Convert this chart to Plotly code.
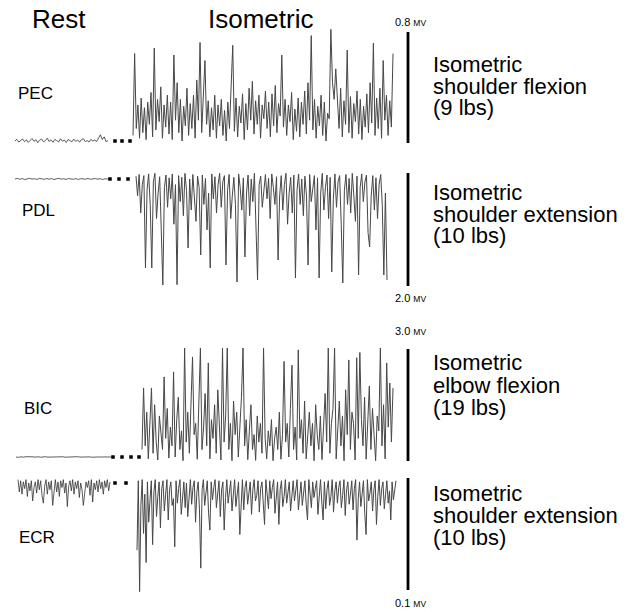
import numpy as np
import plotly.graph_objects as go

# ---------------- data ----------------
channels = ["PEC", "PDL", "BIC", "ECR"]
tasks = [
    ["Isometric", "shoulder flexion", "(9 lbs)"],
    ["Isometric", "shoulder extension", "(10 lbs)"],
    ["Isometric", "elbow flexion", "(19 lbs)"],
    ["Isometric", "shoulder extension", "(10 lbs)"],
]
scale_mv = [0.8, 2.0, 3.0, 0.1]
scale_labels = ["0.8", "2.0", "3.0", "0.1"]

# segment timing (ms)
rest_start = [0, 0, 10, 30]
rest_end = [930, 950, 970, 950]
iso_start = [1180, 1210, 1270, 1220]
iso_end = [3780, 3720, 3780, 3810]
gap_dots = [[1000, 1070, 1150], [950, 1040, 1130], [980, 1070, 1160, 1240], [1000, 1110]]

# EMG samples (microvolts)
pec_rest = [0, 12, -8, 5, 15, -5, 8, -10, 4, 18, -3, 10, -12, 6, 14, -6, 3, 20, -4, 9,
            -9, 12, 2, -7, 16, -2, 7, -11, 11, 5, -6, 14, -3, 8, -9, 10, 17, -5, 4, -8,
            12, 0, 6, -4, 22, 45, 10, 30, -5, 3]
pec_iso = [40, 630, 90, 260, 20, 310, 60, 240, 10, 280,
           120, 350, 30, 670, 80, 300, 140, 390, 20, 260,
           100, 330, 50, 280, 10, 620, 150, 420, 60, 300,
           0, 250, 110, 380, 40, 270, 90, 330, 20, 440,
           150, 710, 60, 350, 580, 120, 290, 30, 240, 80,
           330, 20, 260, 110, 300, 40, 220, 0, 280, 90,
           360, 690, 70, 310, 30, 250, 130, 340, 10, 270,
           80, 380, 150, 430, 50, 290, 120, 330, 20, 260,
           160, 360, 90, 280, 30, 340, 110, 400, 60, 270,
           180, 620, 100, 300, 40, 260, 140, 350, 10, 230,
           70, 310, 30, 280, 120, 360, 50, 420, 150, 760,
           80, 300, 20, 250, 110, 330, 40, 280, 0, 200,
           160, 805, 420, 300, 520, 250, 90, 380, 30, 290,
           120, 655, 60, 320, 20, 270, 140, 360, 50, 300,
           10, 250, 100, 340, 60, 420, 130, 705, 40, 310,
           90, 380, 20, 580, 150, 330, 40, 290, 100, 630]

pdl_rest = [0, 10, -5, 8, -10, 5, 12, -3, 6, -8, 10, 2, -6, 9, -4, 7, -10, 4, 11, -2,
            5, -7, 9, 0, -5, 8, -9, 6, 3, -4, 10, -6, 2, 7, -3, 5, -8, 4, 0, 3]
pdl_iso = [50, -300, 80, -600, -100, 60, -1575, -200, 90, -450,
           -1575, -50, 100, -700, -250, 40, -900, -1876, -150, 70,
           -500, 20, -350, 90, -800, -100, -1870, 60, -400, 30,
           -650, 100, -200, -1221, 0, -550, 80, -300, -750, 50,
           -150, -1345, 70, -450, 10, -900, -250, -1575, 90, -350,
           40, -600, -100, 100, -500, -50, 60, -1522, -200, 80,
           -700, -300, 30, -450, -1823, 90, -150, -550, 20, -1380,
           -250, 70, -650, 0, -400, 100, -850, -1788, -100, 50,
           -500, -200, 80, -350, 10, -700, 90, -150, -450, 40,
           -1434, -300, 60, -550, -100, 100, -800, -250, 30, -600,
           70, -1752, -200, 90, -450, 0, -650, 50, -300, -1522,
           80, -400, -100, 60, -900, 20, -1752, -250, 100, -550,
           -150, 70, -700, 30, -1646, -350, 90, -500, -50, 60,
           -800, -1840, -200, 80, -450, 10, -600, 100, -300, -750,
           50, -1699, -150, 90, -400, -50, 70, -950, -1204, -300,
           60, -550, 20, -700, -100, 80, -450, -1699, -250, -1788]

bic_rest = [0, -10, 5, -5, 8, 0, -8, 4, -3, 6, -6, 2, 7, -4, 0, 5, -7, 3, -2, 6,
            -5, 1, 4, -6, 2, 8, -3, 0, 5, -4, 3, -7, 6, 1, -2, 4, -5, 2, 0, 3]
bic_iso = [200, 1850, 300, 1200, -50, 900, 1850, 100, 1400, 400,
           -80, 1100, 600, 200, 2145, 500, 1300, -30, 800, 300,
           2280, 0, 1000, 1600, 200, 700, -100, 2920, 400, 1200,
           100, 1500, 2680, 600, 900, -60, 1300, 2920, 200, 800,
           1700, 300, 2520, -50, 1000, 500, 1400, 100, 1800, 700,
           -80, 2920, 400, 1100, 2920, 200, 900, -100, 1500, 600,
           1200, 0, 800, 1600, 2920, 300, 1000, -70, 700, 1400,
           200, 600, -90, 1100, 400, 900, 100, 2920, 500, -50,
           700, 300, 1000, -100, 500, 800, 200, 1200, -60, 600,
           2560, 400, 900, 0, 1300, 2460, 200, 800, -80, 2870,
           500, 1000, 100, 1500, -50, 700, 1200, 300, 900, -100,
           1400, 600, 200, 1100, -70, 800, 1700, 400, 2920, 100,
           900, 1300, 2920, -50, 700, 1500, 300, 1100, -100, 1800,
           600, 2600, 200, 1200, 900, -80, 2660, 500, 2800, 1000,
           300, 1600, -60, 800, 1900, 200, 1300, 600, -100, 1100,
           700, 2920, 300, 1400, -50, 2520, 800, 1980, 400, 1850]

ecr_rest = [3, -8, 2, -10, 1, -5, 3, -12, 0, -7, 2, -16, -4, 1, -9, 3, -6, 2, -11, -18,
            -3, 3, -10, 1, -6, 2, -20, -5, 3, -8, 1, -12, 2, -4, 3, -9, 0, -21, -3, 2,
            -7, 3, -10, 1, -5, 2, -13, 0, -6, -20, -9, 1, -4, 2, -11, 3, -17, 0, -6, 2,
            -8, 3, -5, 1, -10, 2, -4, 3, -7, 1]
ecr_iso = [-60, 2, -97, -20, 3, -45, -10, -71, 1, -35,
           -15, 2, -55, -8, 3, -30, -12, 1, -40, -5,
           2, -25, -10, 3, -33, -6, 1, -20, -14, -57,
           2, -18, -5, 3, -28, -9, 1, -22, 0, -30,
           -12, 3, -19, -4, 2, -35, -8, 1, -24, -76,
           -6, 3, -20, -11, 2, -27, -42, 1, -15, -4,
           3, -22, -9, 2, -30, -6, 1, -42, -13, 3,
           -18, -5, 2, -25, -10, 3, -21, -7, 1, -46,
           -12, 3, -24, -4, 2, -19, -9, 1, -28, -6,
           3, -16, -11, 2, -26, -5, 1, -20, -37, 3,
           -8, -23, 2, -14, -4, 3, -27, -10, 1, -37,
           -6, 2, -21, -12, 3, -18, -5, 1, -25, -9,
           2, -16, -4, 3, -24, -11, 1, -20, -7, 2,
           -19, -33, 3, -8, -22, 1, -13, -5, 2, -28,
           -10, 3, -17, -33, 1, -23, -6, 2, -20, -12,
           3, -26, -7, 1, -18, -4, 2, -22, -11, 3,
           -29, -6, 1, -19, -10, 2, -24, -5, 3, -51,
           -14, 1, -21, -8, 2, -27, -46, 3, -16, -9,
           1, -25, -6, 2, -37, -12, 3, -20, -5, 1,
           -23, -10, 2, -18, -7, -33, 1, -15, -4, 2]

rest_data = [pec_rest, pdl_rest, bic_rest, ecr_rest]
iso_data = [pec_iso, pdl_iso, bic_iso, ecr_iso]

# ---------------- layout (window pixels) ----------------
WIN_W, WIN_H = 639, 612
OFF = 8                      # page body margin around the plot div
W, H = WIN_W - OFF, WIN_H - OFF
zero_px = [141, 179, 457, 483]          # window row of 0 uV for each channel
bar_px = [(32, 143), (173, 286), (349, 461), (478, 590)]  # scale bar top/bottom rows
bar_x_px = 408
label_y_px = [22, 298, 331, 603]
name_pos = [(18, 93), (22, 210), (24, 408), (19, 537)]
task_y_px = [64, 192, 363, 493]
task_dy = 22
PAD = 2                      # annotation inner padding
font = "Liberation Sans, Arial, sans-serif"
x_origin_px = 15             # window column of t = 0
px_per_ms = 0.1


def px(x):
    return (x - OFF) / W


def py(y):
    return 1 - (y - OFF) / H


fig = go.Figure()
shapes = []
annotations = []
layout_axes = {}

for i, name in enumerate(channels):
    uv_per_px = scale_mv[i] * 1000 / (bar_px[i][1] - bar_px[i][0])
    p0 = zero_px[i] - OFF
    yname = "y" if i == 0 else f"y{i + 1}"
    axkey = "yaxis" if i == 0 else f"yaxis{i + 1}"
    ax = dict(range=[-(H - p0) * uv_per_px, p0 * uv_per_px], visible=False,
              domain=[0, 1], fixedrange=True)
    if i > 0:
        ax["overlaying"] = "y"
    layout_axes[axkey] = ax

    t_rest = np.linspace(rest_start[i], rest_end[i], len(rest_data[i]))
    t_iso = np.linspace(iso_start[i], iso_end[i], len(iso_data[i]))
    fig.add_trace(go.Scatter(x=t_rest, y=rest_data[i], mode="lines", yaxis=yname,
                             line=dict(color="#333333", width=0.8), hoverinfo="skip",
                             showlegend=False))
    fig.add_trace(go.Scatter(x=t_iso, y=iso_data[i], mode="lines", yaxis=yname,
                             line=dict(color="#474747", width=1), hoverinfo="skip",
                             showlegend=False))
    fig.add_trace(go.Scatter(x=gap_dots[i], y=[0] * len(gap_dots[i]), mode="markers",
                             yaxis=yname, marker=dict(symbol="square", size=3.5, color="black"),
                             hoverinfo="skip", showlegend=False))

    # scale bar
    bottom_val = (zero_px[i] - bar_px[i][1]) * uv_per_px
    shapes.append(dict(type="line", xref="paper", yref=yname,
                       x0=px(bar_x_px), x1=px(bar_x_px),
                       y0=bottom_val, y1=bottom_val + scale_mv[i] * 1000,
                       line=dict(color="black", width=2.8)))
    annotations.append(dict(xref="paper", yref="paper", x=px(395 - PAD), y=py(label_y_px[i]),
                            xanchor="left", yanchor="middle", showarrow=False,
                            text=scale_labels[i] + " <span style='font-size:8.5px'>MV</span>",
                            font=dict(family=font, size=11, color="black")))
    # channel name
    annotations.append(dict(xref="paper", yref="paper", x=px(name_pos[i][0] - PAD),
                            y=py(name_pos[i][1]),
                            xanchor="left", yanchor="middle", showarrow=False, text=name,
                            font=dict(family=font, size=17, color="black")))
    # task description
    for j, line in enumerate(tasks[i]):
        annotations.append(dict(xref="paper", yref="paper", x=px(433 - PAD),
                                y=py(task_y_px[i] + j * task_dy),
                                xanchor="left", yanchor="middle", showarrow=False, text=line,
                                font=dict(family=font, size=22, color="black")))

# column titles
for txt, xl in [("Rest", 32), ("Isometric", 208)]:
    annotations.append(dict(xref="paper", yref="paper", x=px(xl - PAD), y=py(19),
                            xanchor="left", yanchor="middle", showarrow=False, text=txt,
                            font=dict(family=font, size=26, color="black")))

t_left = (OFF - x_origin_px) / px_per_ms
t_right = (WIN_W - x_origin_px) / px_per_ms
fig.update_layout(
    width=W, height=H, margin=dict(l=0, r=0, t=0, b=0),
    paper_bgcolor="white", plot_bgcolor="white",
    xaxis=dict(range=[t_left, t_right], visible=False, domain=[0, 1], fixedrange=True),
    shapes=shapes, annotations=annotations, showlegend=False,
    **layout_axes,
)

fig.write_html("out.html")
